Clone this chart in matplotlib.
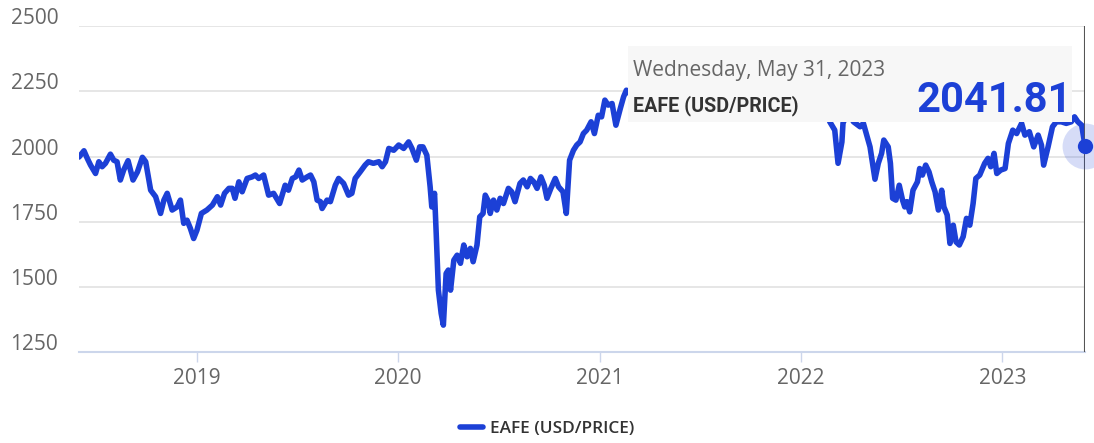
import matplotlib
matplotlib.use("Agg")
import matplotlib.pyplot as plt
import matplotlib.dates as mdates
import matplotlib.transforms as mtrans
from matplotlib.patches import Rectangle
import pandas as pd

# EAFE index (USD / price)
dates = [
    "2018-06-01", "2018-06-10", "2018-06-16", "2018-06-22", "2018-07-01", "2018-07-07",
    "2018-07-13", "2018-07-19", "2018-07-28", "2018-08-03", "2018-08-09", "2018-08-15",
    "2018-08-21", "2018-08-29", "2018-09-07", "2018-09-15", "2018-09-24", "2018-09-30",
    "2018-10-09", "2018-10-18", "2018-10-27", "2018-11-02", "2018-11-08", "2018-11-17",
    "2018-11-26", "2018-12-02", "2018-12-08", "2018-12-14", "2018-12-20", "2018-12-26",
    "2019-01-01", "2019-01-09", "2019-01-19", "2019-01-29", "2019-02-07", "2019-02-13",
    "2019-02-20", "2019-02-28", "2019-03-06", "2019-03-11", "2019-03-18", "2019-03-24",
    "2019-04-02", "2019-04-11", "2019-04-17", "2019-04-23", "2019-05-02", "2019-05-11",
    "2019-05-20", "2019-05-31", "2019-06-10", "2019-06-16", "2019-06-23", "2019-06-29",
    "2019-07-05", "2019-07-11", "2019-07-20", "2019-07-26", "2019-08-01", "2019-08-07",
    "2019-08-13", "2019-08-16", "2019-08-25", "2019-08-31", "2019-09-09", "2019-09-15",
    "2019-09-24", "2019-10-03", "2019-10-09", "2019-10-15", "2019-10-24", "2019-11-02",
    "2019-11-08", "2019-11-17", "2019-11-27", "2019-12-03", "2019-12-09", "2019-12-15",
    "2019-12-24", "2020-01-02", "2020-01-11", "2020-01-20", "2020-01-26", "2020-02-03",
    "2020-02-09", "2020-02-15", "2020-02-22", "2020-02-28", "2020-03-02", "2020-03-07",
    "2020-03-10", "2020-03-14", "2020-03-19", "2020-03-23", "2020-03-28", "2020-04-01",
    "2020-04-05", "2020-04-11", "2020-04-17", "2020-04-23", "2020-04-29", "2020-05-05",
    "2020-05-11", "2020-05-16", "2020-05-23", "2020-05-28", "2020-06-03", "2020-06-07",
    "2020-06-13", "2020-06-16", "2020-06-22", "2020-06-28", "2020-07-04", "2020-07-10",
    "2020-07-19", "2020-07-25", "2020-07-31", "2020-08-09", "2020-08-15", "2020-08-22",
    "2020-08-28", "2020-09-03", "2020-09-09", "2020-09-16", "2020-09-22", "2020-09-27",
    "2020-10-04", "2020-10-12", "2020-10-18", "2020-10-26", "2020-11-01", "2020-11-07",
    "2020-11-14", "2020-11-20", "2020-11-26", "2020-12-02", "2020-12-08", "2020-12-16",
    "2020-12-22", "2020-12-29", "2021-01-04", "2021-01-10", "2021-01-16", "2021-01-23",
    "2021-01-30", "2021-02-07", "2021-02-13", "2021-02-18",
    # behind the tooltip
    "2021-03-01", "2021-03-15", "2021-04-01", "2021-04-15", "2021-05-03", "2021-05-17",
    "2021-06-01", "2021-06-15", "2021-07-01", "2021-07-19", "2021-08-02", "2021-08-16",
    "2021-09-01", "2021-09-20", "2021-10-04", "2021-10-18", "2021-11-01", "2021-11-15",
    "2021-11-30", "2021-12-15", "2022-01-03", "2022-01-14", "2022-01-27", "2022-02-09",
    "2022-02-22", "2022-03-03", "2022-03-09", "2022-03-16", "2022-03-18", "2022-03-27",
    "2022-04-06", "2022-04-18", "2022-04-24", "2022-05-06", "2022-05-15", "2022-05-21",
    "2022-05-27", "2022-05-31", "2022-06-08", "2022-06-12", "2022-06-16", "2022-06-22",
    "2022-06-28", "2022-07-04", "2022-07-08", "2022-07-12", "2022-07-17", "2022-07-23",
    "2022-07-31", "2022-08-04", "2022-08-09", "2022-08-15", "2022-08-21", "2022-08-26",
    "2022-09-01", "2022-09-07", "2022-09-13", "2022-09-17", "2022-09-23", "2022-09-28",
    "2022-10-04", "2022-10-09", "2022-10-15", "2022-10-22", "2022-10-28", "2022-11-03",
    "2022-11-09", "2022-11-14", "2022-11-21", "2022-11-30", "2022-12-06", "2022-12-11",
    "2022-12-17", "2022-12-22", "2022-12-29", "2023-01-06", "2023-01-12", "2023-01-20",
    "2023-01-27", "2023-02-05", "2023-02-11", "2023-02-19", "2023-02-27", "2023-03-07",
    "2023-03-13", "2023-03-17", "2023-03-25", "2023-04-02", "2023-04-09", "2023-04-18",
    "2023-04-27", "2023-05-06", "2023-05-12", "2023-05-18", "2023-05-25", "2023-05-31",
]
values = [
    1998, 2022, 1993, 1967, 1935, 1980,
    1961, 1974, 2009, 1986, 1980, 1910,
    1948, 1984, 1910, 1941, 1997, 1980,
    1871, 1846, 1782, 1833, 1859, 1795,
    1807, 1833, 1744, 1756, 1725, 1686,
    1718, 1782, 1795, 1814, 1846, 1814,
    1859, 1878, 1878, 1840, 1903, 1865,
    1916, 1922, 1929, 1916, 1929, 1852,
    1859, 1820, 1890, 1871, 1916, 1922,
    1948, 1910, 1922, 1929, 1903, 1833,
    1827, 1801, 1833, 1827, 1890, 1916,
    1897, 1852, 1859, 1916, 1941, 1967,
    1980, 1974, 1980, 1961, 1980, 2031,
    2024, 2044, 2031, 2056, 2031, 1986,
    2037, 2037, 2005, 1884, 1807, 1859,
    1706, 1488, 1399, 1354, 1552, 1565,
    1488, 1603, 1622, 1591, 1661, 1616,
    1648, 1597, 1661, 1769, 1782, 1852,
    1827, 1782, 1833, 1795, 1840, 1820,
    1878, 1865, 1827, 1897, 1910, 1884,
    1916, 1903, 1878, 1922, 1890, 1840,
    1878, 1916, 1884, 1865, 1782, 1986,
    2024, 2044, 2056, 2088, 2101, 2133,
    2088, 2158, 2152, 2216, 2197, 2203,
    2120, 2184, 2229, 2254,
    2230, 2260, 2250, 2300, 2320, 2310,
    2360, 2370, 2340, 2280, 2350, 2360,
    2390, 2310, 2270, 2340, 2350, 2370,
    2240, 2290, 2340, 2330, 2210, 2300,
    2133, 2101, 1974, 2056, 2128, 2170,
    2133, 2114, 2127, 2037, 1913, 1974,
    2012, 2063, 2037, 1974, 1840, 1833,
    1890, 1833, 1807, 1827, 1788, 1871,
    1903, 1954, 1929, 1967, 1941, 1903,
    1865, 1795, 1871, 1807, 1776, 1667,
    1737, 1673, 1661, 1693, 1763, 1737,
    1820, 1916, 1929, 1974, 1993, 1961,
    2012, 1935, 1948, 1954, 2050, 2101,
    2088, 2127, 2082, 2095, 2037, 2082,
    2044, 1967, 2037, 2114, 2133, 2133,
    2127, 2133, 2152, 2133, 2120, 2041.81,
]
series_name = "EAFE (USD/PRICE)"
tooltip_date = "Wednesday, May 31, 2023"
tooltip_value = "2041.81"
y_ticks = [1250, 1500, 1750, 2000, 2250, 2500]
x_years = [2019, 2020, 2021, 2022, 2023]

blue = "#1c40d6"
grey_txt = "#666666"
axis_col = "#ccd6eb"

x = pd.to_datetime(dates)

fig = plt.figure(figsize=(10.94, 4.43), dpi=100)
ax = fig.add_axes([79 / 1094, 90.7 / 443, 1006 / 1094, 326.3 / 443])

ax.plot(x, values, color=blue, lw=4.0, solid_capstyle="round", solid_joinstyle="round",
        label=series_name, zorder=3)

ax.set_xlim(pd.Timestamp("2018-06-01"), pd.Timestamp("2023-05-31"))
ax.set_ylim(1250, 2500)

# grid + axes
ax.set_yticks(y_ticks)
ax.yaxis.grid(True, color="#e6e6e6", lw=1.4)
ax.set_axisbelow(True)
for s in ["top", "right", "left"]:
    ax.spines[s].set_visible(False)
ax.spines["bottom"].set_color(axis_col)
ax.spines["bottom"].set_linewidth(1.5)

ax.set_xticks([pd.Timestamp(f"{y}-01-01") for y in x_years])
ax.xaxis.set_major_formatter(mdates.DateFormatter("%Y"))
ax.tick_params(axis="x", length=7.2, width=1, color=axis_col, pad=4,
               labelsize=15, labelcolor=grey_txt)
ax.tick_params(axis="y", length=0, pad=15, labelsize=15, labelcolor=grey_txt)
for lab in ax.get_xticklabels() + ax.get_yticklabels():
    lab.set_fontfamily("Open Sans")
for lab in ax.get_yticklabels():
    lab.set_verticalalignment("baseline")
    lab.set_transform(lab.get_transform() + mtrans.ScaledTranslation(0, 0.02, fig.dpi_scale_trans))

# crosshair and hover marker on the last point
ax.axvline(x[-1], color="#555555", lw=1.5, zorder=4)
ax.plot(x[-1], values[-1], "o", ms=33, color=blue, alpha=0.18, mec="none", clip_on=False, zorder=5)
ax.plot(x[-1], values[-1], "o", ms=11, color=blue, mec="none", clip_on=False, zorder=6)

# tooltip
ax.add_patch(Rectangle((0.5457, 0.7058), 0.4414, 0.2329, transform=ax.transAxes,
                       facecolor="#f7f7f7", edgecolor="none", clip_on=False, zorder=7))
ax.text(0.5507, 0.8468, tooltip_date, transform=ax.transAxes, fontsize=15,
        family="Open Sans", color=grey_txt, va="baseline", ha="left", zorder=8)
ax.text(0.5507, 0.7374, series_name, transform=ax.transAxes, fontsize=14.2,
        family="Roboto", weight="bold", color="#333333", va="baseline", ha="left", zorder=8)
ax.text(0.9870, 0.7374, tooltip_value, transform=ax.transAxes, fontsize=30,
        family="Roboto", weight="bold", color=blue, va="baseline", ha="right", zorder=8)

leg = ax.legend(loc="center", bbox_to_anchor=(0.5005, 0.0316), bbox_transform=fig.transFigure,
                frameon=False, handlelength=1.3, handletextpad=0.45,
                prop={"family": "Open Sans", "size": 12.4, "weight": "semibold"})
for t in leg.get_texts():
    t.set_color("#333333")
for h in leg.get_lines():
    h.set_linewidth(4)

fig.savefig("out.png", dpi=100, facecolor="white")
